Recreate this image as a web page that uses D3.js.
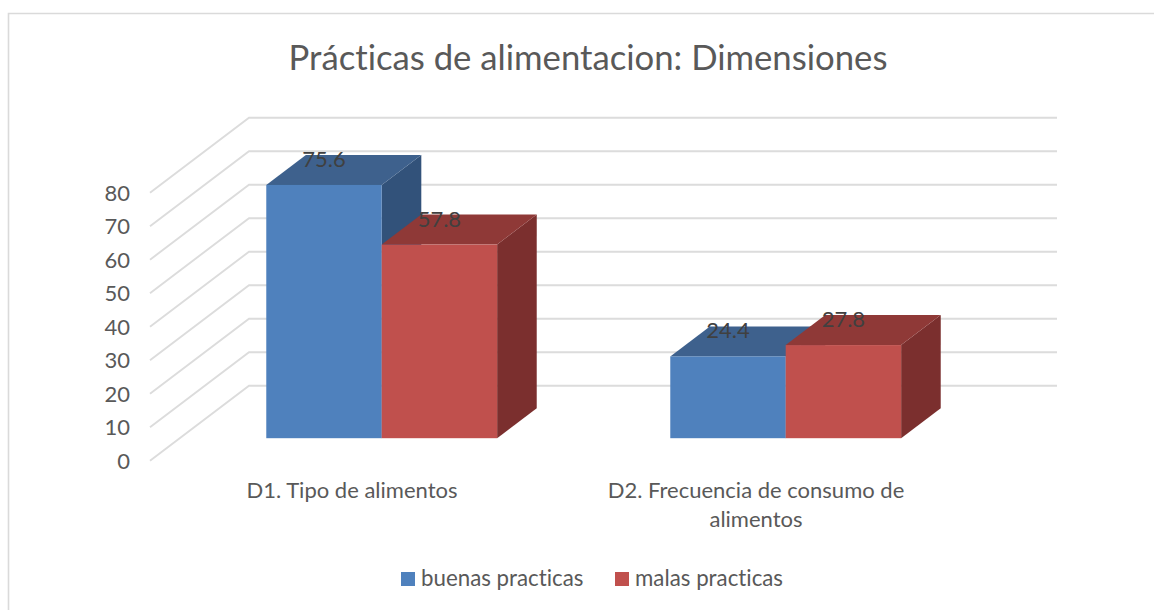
<!DOCTYPE html>
<html>
<head>
<meta charset="utf-8">
<script src="https://cdn.jsdelivr.net/npm/d3@7"></script>
<style>
html,body{margin:0;padding:0;background:#fff;overflow:hidden}
svg{display:block}
text{font-family:Lato,"Open Sans",sans-serif;font-variant-ligatures:none}
</style>
</head>
<body>
<svg id="chart" width="1154" height="610"></svg>
<script>
const titleText = "Prácticas de alimentacion: Dimensiones";
const categories = ["D1. Tipo de alimentos", "D2. Frecuencia de consumo de alimentos"];
const categoryLines = [["D1. Tipo de alimentos"], ["D2. Frecuencia de consumo de", "alimentos"]];
const seriesNames = ["buenas practicas", "malas practicas"];
const buenas = [75.6, 24.4];
const malas = [57.8, 27.8];
const seriesValues = [buenas, malas];
const tickValues = [0, 10, 20, 30, 40, 50, 60, 70, 80];
const faceColors = ["#4F81BD", "#C0504D"];
const topColors = ["#3E618D", "#8F3937"];
const sideColors = ["#32527A", "#7B2F2E"];

const svg = d3.select("#chart");
const wallDx = 99, wallDy = -75;

const x = d3.scaleBand().domain(categories).range([150, 958]).paddingInner(0.4286).paddingOuter(0.2143);
const xSeries = d3.scaleBand().domain(d3.range(seriesNames.length)).range([0, x.bandwidth()]);
const y = d3.scaleLinear().domain([0, 80]).range([460.7, 192.7]);
// depth fraction -> offset along the floor diagonal
const depth = d3.scaleLinear().domain([0, 1]).range([0, 1]);
const ox = f => depth(f) * wallDx, oy = f => depth(f) * wallDy;
const barFront = 0.3, barBack = 0.7;

// chart border (runs off the right and bottom edges)
svg.append("path").attr("d", "M8.5 612V13.5H1156").attr("fill", "none").attr("stroke", "#DADADA").attr("stroke-width", 1.6);

// title
svg.append("text").attr("x", 588).attr("y", 70).attr("text-anchor", "middle")
  .attr("font-size", 34.7).attr("fill", "#595959").text(titleText);

// gridlines: side wall + back wall
svg.append("g").selectAll("path").data(tickValues).join("path")
  .attr("d", t => `M150 ${y(t)}L${150 + wallDx} ${y(t) + wallDy}H1057`)
  .attr("fill", "none").attr("stroke", "#DCDCDC").attr("stroke-width", 1.9);

// y axis labels
svg.append("g").selectAll("text").data(tickValues).join("text")
  .attr("x", 130).attr("y", t => y(t) + 8.2).attr("text-anchor", "end")
  .attr("font-size", 22).attr("fill", "#595959").text(t => t);

// bars, back to front, left to right
const bars = [];
categories.forEach((c, ci) => seriesNames.forEach((s, si) => bars.push({c, ci, si, v: seriesValues[si][ci]})));
const pts = a => a.map(p => p.join(",")).join(" ");
const bar = svg.append("g").selectAll("g").data(bars).join("g");
bar.each(function(d) {
  const g = d3.select(this);
  const x0 = x(d.c) + xSeries(d.si) + ox(barFront);
  const x1 = x0 + xSeries.bandwidth();
  const yb = y(0) + oy(barFront), yt = y(d.v) + oy(barFront);
  const dx = ox(barBack - barFront), dy = oy(barBack - barFront);
  g.append("polygon").attr("points", pts([[x1, yb], [x1 + dx, yb + dy], [x1 + dx, yt + dy], [x1, yt]])).attr("fill", sideColors[d.si]);
  g.append("polygon").attr("points", pts([[x0, yt], [x1, yt], [x1 + dx, yt + dy], [x0 + dx, yt + dy]])).attr("fill", topColors[d.si]);
  g.append("rect").attr("x", x0).attr("y", yt).attr("width", x1 - x0).attr("height", yb - yt).attr("fill", faceColors[d.si]);
});

// data labels
svg.append("g").selectAll("text").data(bars).join("text")
  .attr("x", d => x(d.c) + xSeries(d.si) + xSeries.bandwidth() / 2 + ox(barFront))
  .attr("y", d => y(d.v) + oy(barFront) - 18)
  .attr("text-anchor", "middle").attr("font-size", 22).attr("fill", "#404040")
  .text(d => d.v.toFixed(1));

// category labels
const catG = svg.append("g").selectAll("text").data(categories).join("text")
  .attr("text-anchor", "middle").attr("font-size", 22).attr("fill", "#595959");
catG.each(function(c, i) {
  d3.select(this).selectAll("tspan").data(categoryLines[i]).join("tspan")
    .attr("x", x(c) + x.bandwidth() / 2).attr("y", (l, j) => 498 + j * 29).text(l => l);
});

// legend
const legendX = d3.scaleOrdinal().domain(seriesNames).range([401, 615]);
const leg = svg.append("g").selectAll("g").data(seriesNames).join("g")
  .attr("transform", s => `translate(${legendX(s)},572)`);
leg.append("rect").attr("width", 14).attr("height", 14).attr("fill", (s, i) => faceColors[i]);
leg.append("text").attr("x", 20).attr("y", 14).attr("font-size", 22.3).attr("fill", "#595959").text(s => s);
</script>
</body>
</html>
